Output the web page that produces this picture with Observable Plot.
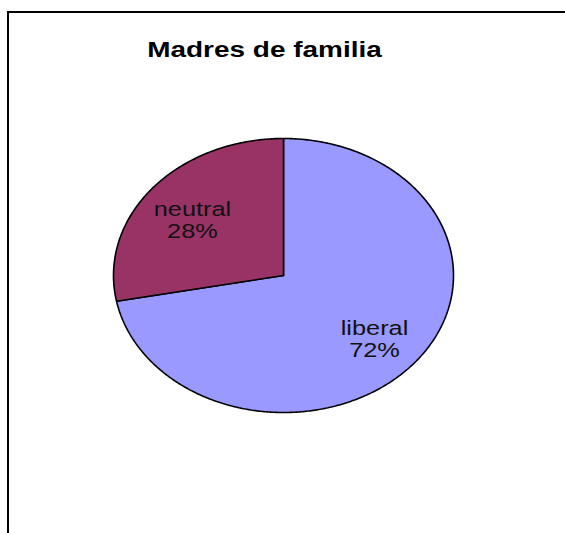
<!DOCTYPE html>
<html>
<head>
<meta charset="utf-8">
<script src="https://cdn.jsdelivr.net/npm/d3@7"></script>
<script src="https://cdn.jsdelivr.net/npm/@observablehq/plot@0.6"></script>
<style>
  html, body { margin: 0; padding: 0; background: #fff; }
  body { width: 565px; height: 533px; position: relative; overflow: hidden; font-family: "Liberation Sans", Arial, sans-serif; }
  #frame { position: absolute; left: 7px; top: 11px; right: -5px; bottom: -5px; border-top: 2.5px solid #000; border-left: 2.5px solid #000; }
  #title { position: absolute; left: 0; width: 529px; top: 38px; text-align: center; font-size: 22px; line-height: 24px; font-weight: bold; color: #000; transform: scaleX(1.27); transform-origin: 264.5px 50%; }
  #chart { position: absolute; left: 0; top: 0; }
</style>
</head>
<body>
<div id="frame"></div>
<div id="chart"></div>
<div id="title">Madres de familia</div>
<script>
const labels = ["liberal", "neutral"];
const values = [72, 28];
const colors = ["#9999FF", "#993366"];

const slices = d3.pie().sort(null).value(d => d.value)(labels.map((l, i) => ({label: l, value: values[i]})));

const outline = [];
for (const s of slices) {
  const n = Math.max(8, Math.ceil((s.endAngle - s.startAngle) / 0.01));
  outline.push({label: s.data.label, x: 0, y: 0});
  for (let k = 0; k <= n; k++) {
    const a = s.startAngle + (s.endAngle - s.startAngle) * k / n;
    outline.push({label: s.data.label, x: Math.sin(a), y: Math.cos(a)});
  }
  outline.push({label: s.data.label, x: 0, y: 0});
}

const labelPts = slices.map(s => {
  const m = (s.startAngle + s.endAngle) / 2;
  return {label: s.data.label, value: s.data.value, x: 0.695 * Math.sin(m), y: 0.68 * Math.cos(m)};
});

const plot = Plot.plot({
  width: 565,
  height: 533,
  marginLeft: 113,
  marginRight: 112,
  marginTop: 138,
  marginBottom: 121,
  x: {domain: [-1, 1], axis: null},
  y: {domain: [-1, 1], axis: null},
  color: {domain: labels, range: colors},
  style: {background: "transparent", fontFamily: "'Liberation Sans', Arial, sans-serif"},
  marks: [
    Plot.line(outline, {x: "x", y: "y", z: "label", fill: "label", stroke: "#000", strokeWidth: 1.6, strokeLinejoin: "miter"}),
    Plot.text(labelPts, {x: "x", y: "y", dy: 4, text: d => `${d.label}\n${d.value}%`, fontSize: 19.5, lineHeight: 1.13, fill: "#111"})
  ]
});
plot.querySelectorAll('g[aria-label="text"] text').forEach(t => {
  const tr = t.getAttribute("transform") || "";
  t.setAttribute("transform", tr + " scale(1.3,1)");
});
document.getElementById("chart").appendChild(plot);
</script>
</body>
</html>
